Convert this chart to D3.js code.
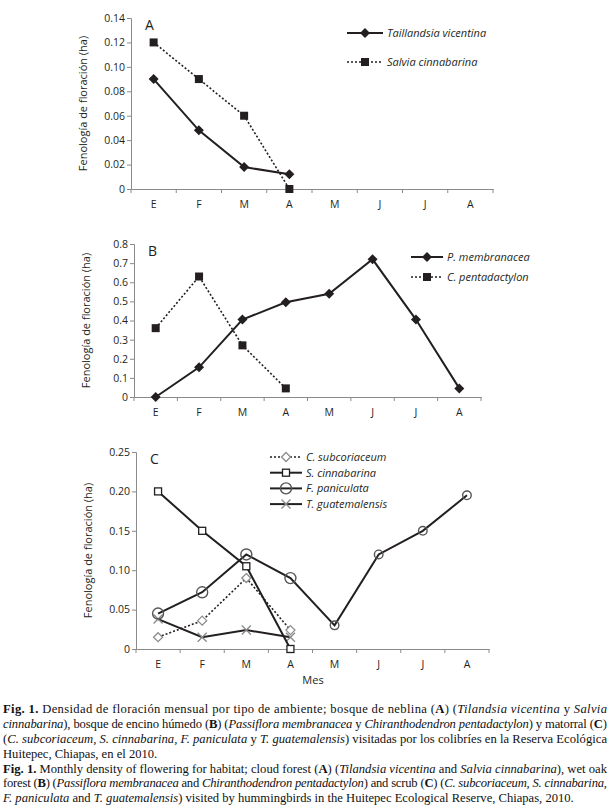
<!DOCTYPE html>
<html><head><meta charset="utf-8">
<script src="https://cdn.jsdelivr.net/npm/d3@7"></script>
<style>
body{margin:0;background:#fff;}
svg{display:block;}
</style></head>
<body>
<svg id="c" width="615" height="810"></svg>
<script>
const months = ["E","F","M","A","M","J","J","A"];
// Panel A
const tillandsia = [0.09, 0.048, 0.018, 0.012];
const salvia = [0.12, 0.09, 0.06, 0.0];
const ticksA = [0,0.02,0.04,0.06,0.08,0.10,0.12,0.14];
// Panel B
const pMembranacea = [0, 0.155, 0.405, 0.495, 0.54, 0.72, 0.405, 0.045];
const cPentadactylon = [0.36, 0.63, 0.27, 0.045];
const ticksB = [0,0.1,0.2,0.3,0.4,0.5,0.6,0.7,0.8];
// Panel C
const cSubcoriaceum = [0.015, 0.036, 0.09, 0.024];
const sCinnabarina = [0.2, 0.15, 0.105, 0.0];
const fPaniculata = [0.045, 0.072, 0.12, 0.09, 0.03, 0.12, 0.15, 0.195];
const tGuatemalensis = [0.038, 0.015, 0.024, 0.015];
const ticksC = [0,0.05,0.10,0.15,0.20,0.25];

const svg = d3.select("#c");
const INK = "#231f20";
const AX = "#8a8a8a";
const SANS = "'Open Sans', 'Noto Sans', sans-serif";

function panel(cfg){
  const g = svg.append("g");
  const x = d3.scaleBand().domain(d3.range(months.length)).range([cfg.x0, cfg.x1]);
  const y = d3.scaleLinear().domain([0, cfg.ymax]).range([cfg.yb, cfg.yt]);
  const ya = d3.axisLeft(y).tickValues(cfg.ticks).tickSize(4).tickFormat(cfg.fmt);
  const yg = g.append("g").attr("transform",`translate(${cfg.x0},0)`).call(ya);
  yg.select(".domain").attr("stroke",AX);
  yg.selectAll(".tick line").attr("stroke",AX);
  yg.selectAll(".tick text").attr("fill",INK).style("font-family",SANS).style("font-size","10.5px").attr("x",-6);
  const xa = d3.axisBottom(x).tickSize(0).tickFormat(i=>months[i]);
  const xg = g.append("g").attr("transform",`translate(0,${cfg.yb})`).call(xa);
  xg.select(".domain").attr("stroke",AX);
  xg.selectAll(".tick text").attr("fill",INK).style("font-family",SANS).style("font-size","10.5px").attr("dy","1.55em");
  xg.selectAll("line.bt").data(d3.range(months.length+1)).join("line").attr("class","bt")
    .attr("x1",i=>cfg.x0 + i*x.step()).attr("x2",i=>cfg.x0 + i*x.step())
    .attr("y1",0).attr("y2",4).attr("stroke",AX);
  g.append("text").attr("transform",`translate(${cfg.x0-44},${(cfg.yt+cfg.yb)/2}) rotate(-90)`)
    .attr("text-anchor","middle").attr("fill",INK).style("font-family",SANS).style("font-size","11px")
    .text("Fenología de floración (ha)");
  g.append("text").attr("x",cfg.x0+14).attr("y",cfg.yt+12).attr("fill",INK)
    .style("font-family",SANS).style("font-size","14px").text(cfg.letter);
  return {g,x,y};
}

function marker(g, type, cx, cy, opt){
  opt = opt||{};
  const col = opt.color||INK;
  const s = opt.scale||1;
  if(type==="diamondF"){
    g.append("path").attr("d",`M${cx},${cy-5}L${cx+5},${cy}L${cx},${cy+5}L${cx-5},${cy}Z`).attr("fill",col);
  } else if(type==="squareF"){
    g.append("rect").attr("x",cx-4).attr("y",cy-4).attr("width",8).attr("height",8).attr("fill",col);
  } else if(type==="diamondO"){
    g.append("path").attr("d",`M${cx},${cy-4.5}L${cx+4.5},${cy}L${cx},${cy+4.5}L${cx-4.5},${cy}Z`).attr("fill","#fff").attr("stroke",col).attr("stroke-width",1.3);
  } else if(type==="squareO"){
    g.append("rect").attr("x",cx-3.5).attr("y",cy-3.5).attr("width",7).attr("height",7).attr("fill","#fff").attr("stroke",col).attr("stroke-width",1.3);
  } else if(type==="circleO"){
    g.append("circle").attr("cx",cx).attr("cy",cy).attr("r",5.5*s).attr("fill","none").attr("stroke",col).attr("stroke-width",1.4);
  } else if(type==="cross"){
    g.append("path").attr("d",`M${cx-4.5},${cy-4.5}L${cx+4.5},${cy+4.5}M${cx-4.5},${cy+4.5}L${cx+4.5},${cy-4.5}`).attr("stroke",col).attr("stroke-width",1.4);
  }
}

function series(p, vals, st){
  const line = d3.line().x((d,i)=>p.x(i)+p.x.bandwidth()/2).y(d=>p.y(d));
  p.g.append("path").datum(vals).attr("d",line).attr("fill","none")
    .attr("stroke",st.lineColor||INK).attr("stroke-width",st.w||2)
    .attr("stroke-dasharray",st.dash||null);
  vals.forEach((v,i)=>marker(p.g, st.marker, p.x(i)+p.x.bandwidth()/2, p.y(v),
    {color:st.mColor, scale: (st.smallAfter!==undefined && i>=st.smallAfter) ? 0.78 : 1}));
}

function legend(g, items, lx0, lx1, ty0, dy){
  items.forEach((it,k)=>{
    const yy = ty0 + k*dy;
    g.append("line").attr("x1",lx0).attr("x2",lx1).attr("y1",yy).attr("y2",yy)
      .attr("stroke",it.lineColor||INK).attr("stroke-width",it.w||2).attr("stroke-dasharray",it.dash||null);
    marker(g, it.marker, (lx0+lx1)/2, yy, {color:it.mColor});
    g.append("text").attr("x",lx1+4).attr("y",yy+4).attr("fill",INK)
      .style("font-family",SANS).style("font-size","11px").style("font-style","italic").text(it.label);
  });
}

const fmt2 = d=> d===0 ? "0" : d3.format(".2f")(d);
const fmt1 = d=> d===0 ? "0" : d3.format(".1f")(d);

// Panel A
const pA = panel({x0:131, x1:493, yt:18, yb:189, ymax:0.14, ticks:ticksA, fmt:fmt2, letter:"A"});
const stTill = {marker:"diamondF", w:2};
const stSalv = {marker:"squareF", w:1.6, dash:"2,2"};
series(pA, salvia, stSalv);
series(pA, tillandsia, stTill);
legend(pA.g, [
  Object.assign({label:"Taillandsia vicentina"}, stTill),
  Object.assign({label:"Salvia cinnabarina"}, stSalv)
], 347, 383, 33, 29);

// Panel B
const pB = panel({x0:134, x1:481, yt:244, yb:397, ymax:0.8, ticks:ticksB, fmt:fmt1, letter:"B"});
const stPm = {marker:"diamondF", w:2};
const stCp = {marker:"squareF", w:1.6, dash:"2,2"};
series(pB, cPentadactylon, stCp);
series(pB, pMembranacea, stPm);
legend(pB.g, [
  Object.assign({label:"P. membranacea"}, stPm),
  Object.assign({label:"C. pentadactylon"}, stCp)
], 411, 443, 257, 20);

// Panel C
const pC = panel({x0:136, x1:489, yt:452, yb:649, ymax:0.25, ticks:ticksC, fmt:fmt2, letter:"C"});
const stCs = {marker:"diamondO", w:1.6, dash:"2,2", mColor:"#8c8c8c"};
const stSc = {marker:"squareO", w:2};
const stFp = {marker:"circleO", w:2, mColor:"#555", smallAfter:4};
const stTg = {marker:"cross", w:2, mColor:"#8c8c8c"};
series(pC, tGuatemalensis, stTg);
series(pC, cSubcoriaceum, stCs);
series(pC, fPaniculata, stFp);
series(pC, sCinnabarina, stSc);
legend(pC.g, [
  Object.assign({label:"C. subcoriaceum"}, stCs),
  Object.assign({label:"S. cinnabarina"}, stSc),
  Object.assign({label:"F. paniculata"}, stFp),
  Object.assign({label:"T. guatemalensis"}, stTg)
], 270, 302, 457, 15.7);

svg.append("text").attr("x",313).attr("y",684).attr("text-anchor","middle").attr("fill",INK)
  .style("font-family",SANS).style("font-size","11px").text("Mes");

// Caption
const capLines = [
  {j:true, parts:[["b","Fig. 1."],["n"," Densidad de floración mensual por tipo de ambiente; bosque de neblina ("],["b","A"],["n",") ("],["i","Tilandsia vicentina"],["n"," y "],["i","Salvia"]]},
  {j:true, parts:[["i","cinnabarina"],["n","), bosque de encino húmedo ("],["b","B"],["n",") ("],["i","Passiflora membranacea"],["n"," y "],["i","Chiranthodendron pentadactylon"],["n",") y matorral ("],["b","C"],["n",")"]]},
  {j:true, parts:[["n","("],["i","C. subcoriaceum, S. cinnabarina, F. paniculata"],["n"," y "],["i","T. guatemalensis"],["n",") visitadas por los colibríes en la Reserva Ecológica"]]},
  {j:false, parts:[["n","Huitepec, Chiapas, en el 2010."]]},
  {j:true, parts:[["b","Fig. 1."],["n"," Monthly density of flowering for habitat; cloud forest ("],["b","A"],["n",") ("],["i","Tilandsia vicentina"],["n"," and "],["i","Salvia cinnabarina"],["n","), wet oak"]]},
  {j:true, parts:[["n","forest ("],["b","B"],["n",") ("],["i","Passiflora membranacea"],["n"," and "],["i","Chiranthodendron pentadactylon"],["n",") and scrub ("],["b","C"],["n",") ("],["i","C. subcoriaceum, S. cinnabarina,"]]},
  {j:false, parts:[["i","F. paniculata"],["n"," and "],["i","T. guatemalensis"],["n",") visited by hummingbirds in the Huitepec Ecological Reserve, Chiapas, 2010."]]}
];
const capY = [713, 728, 743, 758, 773, 787, 802];
capLines.forEach((ln,k)=>{
  const t = svg.append("text").attr("x",3).attr("y",capY[k]).attr("fill","#111")
    .style("font-family","'Liberation Serif', 'Times New Roman', serif").style("font-size","12.6px")
    .attr("xml:space","preserve").style("white-space","pre");
  ln.parts.forEach(([s,txt])=>{
    const ts = t.append("tspan").text(txt);
    if(s==="b") ts.style("font-weight","bold");
    if(s==="i") ts.style("font-style","italic");
  });
  if(ln.j){ t.attr("textLength",604).attr("lengthAdjust","spacing"); }
});
</script>
</body></html>
